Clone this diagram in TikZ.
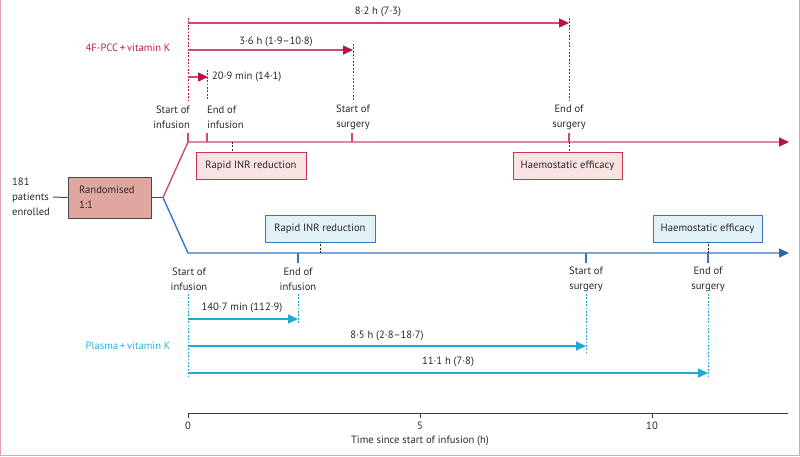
\documentclass[tikz,border=0pt]{standalone}
\usepackage{fontspec}
\setmainfont{PT Sans}
\usetikzlibrary{arrows.meta}
\definecolor{pcc}{RGB}{186,20,62}
\definecolor{pccline}{RGB}{206,74,110}
\definecolor{pcctext}{RGB}{200,30,75}
\definecolor{pccfill}{RGB}{248,226,226}
\definecolor{pccborder}{RGB}{204,52,85}
\definecolor{plas}{RGB}{40,100,175}
\definecolor{plasline}{RGB}{58,116,190}
\definecolor{plasfill}{RGB}{225,241,248}
\definecolor{cyanc}{RGB}{34,166,214}
\definecolor{cyantext}{RGB}{50,176,220}
\definecolor{randfill}{RGB}{224,166,160}
\definecolor{framec}{RGB}{228,158,186}
\definecolor{txt}{RGB}{40,40,40}
\begin{document}
\begin{tikzpicture}[x=1pt,y=-1pt,
  font=\fontsize{10.6}{15}\selectfont, text=txt,
  lbl/.style={inner sep=2pt, align=center},
  pccbox/.style={draw=pccborder, fill=pccfill, line width=0.9pt, minimum height=27pt, inner sep=0pt},
  plasbox/.style={draw=plasline, fill=plasfill, line width=0.9pt, minimum height=27pt, inner sep=0pt},
  pcctl/.style={draw=pccline, line width=1.4pt, -{Triangle[length=10pt,width=9pt,fill=pcc,color=pcc]}},
  plastl/.style={draw=plasline, line width=1.4pt, -{Triangle[length=10pt,width=9pt,fill=plas,color=plas]}},
  pccarr/.style={draw=pccline, line width=1.4pt, -{Triangle[length=10pt,width=9pt,fill=pcc,color=pcc]}},
  cyarr/.style={draw=cyanc, line width=1.4pt, -{Triangle[length=10pt,width=9pt]}},
  dotl/.style={line width=1pt, dash pattern=on 1.8pt off 1.6pt},
  pccdot/.style={draw=pcc, dotl},
  cydot/.style={draw=cyanc, dotl},
  blkdot/.style={draw=txt, dotl},
  pcctick/.style={draw=pccline, line width=1.2pt},
  plastick/.style={draw=plasline, line width=1.2pt},
  axisl/.style={draw=txt!90, line width=1pt}
]
\useasboundingbox (0,0) rectangle (800,456);
\draw[framec, line width=1.3pt] (0.65,0) -- (0.65,455.35) -- (799.35,455.35) -- (799.35,0);

% enrolment and randomisation
\node[anchor=west, align=left, inner sep=2pt] (enr) at (10,197) {181\\patients\\enrolled};
\node[draw=txt!85, fill=randfill, line width=1pt, minimum width=83pt, minimum height=41pt,
      text width=61pt, align=left, inner xsep=11pt, inner ysep=0pt] (rand) at (109.5,197.5) {Randomised\\1:1};
\draw[txt!85, line width=1pt, shorten <=1pt] (enr.east) -- (rand.west);
\coordinate (split) at (163,197.5);
\draw[txt!85, line width=1pt] (rand.east) -- (split);

% 4F-PCC timeline
\coordinate (r0) at (188,142);
\coordinate (rend) at (789,142);
\draw[pcctl] (split) -- (r0) -- (rend);
\foreach \x in {188,207,352,569} \draw[pcctick] (\x,142) -- (\x,133);

\node[lbl, anchor=east, align=right] (rsi) at (192,117) {Start of\\infusion};
\node[lbl, anchor=west, align=left] (rei) at (205,117) {End of\\infusion};
\node[lbl] (rss) at (353,117) {Start of\\surgery};
\node[lbl] (res) at (569,117) {End of\\surgery};

\draw[pccdot] (188,18) -- (188,100);
\draw[pccdot] (207,70) -- (207,100);
\draw[pccdot] (353,44) -- (353,100);
\draw[pccdot] (569,18) -- (569,100);

\coordinate (ra1) at (188,23); \coordinate (rb1) at (569,23);
\coordinate (ra2) at (188,50); \coordinate (rb2) at (353,50);
\coordinate (ra3) at (188,77); \coordinate (rb3) at (208,77);
\draw[pccarr] (ra1) -- (rb1);
\draw[pccarr] (ra2) -- (rb2);
\draw[pccarr] (ra3) -- (rb3);
\node[lbl] (rl1) at (378,12) {8·2 h (7·3)};
\node[lbl] (rl2) at (276,42) {3·6 h (1·9–10·8)};
\node[lbl, anchor=west] (rl3) at (210,77) {20·9 min (14·1)};
\node[lbl, text=pcctext] (pccname) at (128,48) {4F-PCC\,+\,vitamin K};

\node[pccbox, minimum width=110pt] (rinr) at (251,166) {Rapid INR reduction};
\node[pccbox, minimum width=109pt] (rhe) at (567.5,166) {Haemostatic efficacy};
\coordinate (rq1) at (232,142);
\coordinate (rq2) at (569,142);
\draw[blkdot] (rq1) -- (rq1 |- rinr.north);
\draw[blkdot] (rq2) -- (rq2 |- rhe.north);

% Plasma timeline
\coordinate (b0) at (188,253);
\coordinate (bend) at (789,253);
\draw[plastl] (split) -- (b0) -- (bend);
\foreach \x in {298,586,708} \draw[plastick] (\x,253) -- (\x,263);

\node[lbl] (bsi) at (189,279) {Start of\\infusion};
\node[lbl] (bei) at (298,279) {End of\\infusion};
\node[lbl] (bss) at (586,279) {Start of\\surgery};
\node[lbl] (bes) at (708,279) {End of\\surgery};

\node[plasbox, minimum width=110pt] (binr) at (320,228.5) {Rapid INR reduction};
\node[plasbox, minimum width=109pt] (bhe) at (707.5,228.5) {Haemostatic efficacy};
\coordinate (bq1) at (320,253);
\coordinate (bq2) at (708,253);
\draw[blkdot] (bq1) -- (bq1 |- binr.south);
\draw[blkdot] (bq2) -- (bq2 |- bhe.south);

\draw[cydot] (188,294) -- (188,378);
\draw[cydot] (298,294) -- (298,324);
\draw[cydot] (586,294) -- (586,352);
\draw[cydot] (708,294) -- (708,378);

\coordinate (ba1) at (188,319); \coordinate (bb1) at (298,319);
\coordinate (ba2) at (188,346); \coordinate (bb2) at (586,346);
\coordinate (ba3) at (188,373); \coordinate (bb3) at (708,373);
\draw[cyarr] (ba1) -- (bb1);
\draw[cyarr] (ba2) -- (bb2);
\draw[cyarr] (ba3) -- (bb3);
\node[lbl] (bl1) at (242,308) {140·7 min (112·9)};
\node[lbl] (bl2) at (387,336) {8·5 h (2·8–18·7)};
\node[lbl] (bl3) at (448,362) {11·1 h (7·8)};
\node[lbl, text=cyantext] (plasname) at (128,346) {Plasma\,+\,vitamin K};

% time axis
\draw[axisl] (188,413) -- (788,413);
\foreach \x/\t in {188/0,420/5,652/10} {
  \draw[axisl] (\x,413) -- (\x,418);
  \node[lbl] at (\x,426) {\t};
}
\node[lbl] (axtitle) at (420,441) {Time since start of infusion (h)};
\end{tikzpicture}
\end{document}
